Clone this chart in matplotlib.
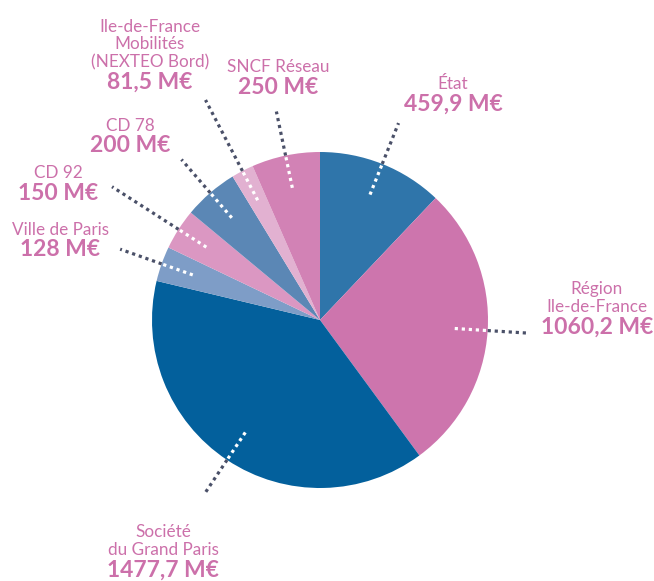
import numpy as np
import matplotlib
matplotlib.use("Agg")
import matplotlib.pyplot as plt

names = ["État", "Région\nIle-de-France", "Société\ndu Grand Paris", "Ville de Paris",
         "CD 92", "CD 78", "Ile-de-France\nMobilités\n(NEXTEO Bord)", "SNCF Réseau"]
values = [459.9, 1060.2, 1477.7, 128, 150, 200, 81.5, 250]
value_labels = ["459,9 M€", "1060,2 M€", "1477,7 M€", "128 M€", "150 M€", "200 M€", "81,5 M€", "250 M€"]
colors = ["#2F75AA", "#CD75AD", "#03609C", "#7E9DC7", "#DB97C2", "#5B87B5", "#E2B1D1", "#D282B5"]

# value-label centre positions (pixel coords, top-left origin); names sit above
label_pos = [(453, 104), (597, 327), (163, 570), (60, 250), (58, 193), (130, 146), (150, 82), (278, 87)]
leader_out = [212, 210, 209, 212, 247, 212, 248, 213]

W, H = 654, 581
fig = plt.figure(figsize=(W / 100, H / 100), dpi=100)
ax = fig.add_axes([0, 0, 1, 1])
ax.axis("off")

cx, cy, R = 320, H - 320, 168
wedges, _ = ax.pie(values, colors=colors, startangle=90, counterclock=False,
                   center=(cx, cy), radius=R, wedgeprops=dict(linewidth=0))
ax.set_xlim(0, W)
ax.set_ylim(0, H)
ax.set_aspect("equal")

r_in = 135
for w, ro in zip(wedges, leader_out):
    mid = np.deg2rad((w.theta1 + w.theta2) / 2)
    ux, uy = np.cos(mid), np.sin(mid)
    ax.plot([cx + r_in * ux, cx + R * ux], [cy + r_in * uy, cy + R * uy],
            color="white", lw=2.3, linestyle=(0, (1, 1.2)), solid_capstyle="butt", zorder=5)
    ax.plot([cx + R * ux, cx + ro * ux], [cy + R * uy, cy + ro * uy],
            color="#4A5068", lw=2.3, linestyle=(0, (1, 1.2)), solid_capstyle="butt", zorder=5)

pink = "#CC70AA"
for name, val, (px, py) in zip(names, value_labels, label_pos):
    ax.text(px, H - py, val, ha="center", va="center", fontsize=16.5, color=pink,
            family="Lato", fontweight="bold")
    ax.text(px, H - (py - 12), name, ha="center", va="bottom", fontsize=12.3, color=pink,
            family="Lato", linespacing=1.12)

fig.savefig("out.png", dpi=100)
